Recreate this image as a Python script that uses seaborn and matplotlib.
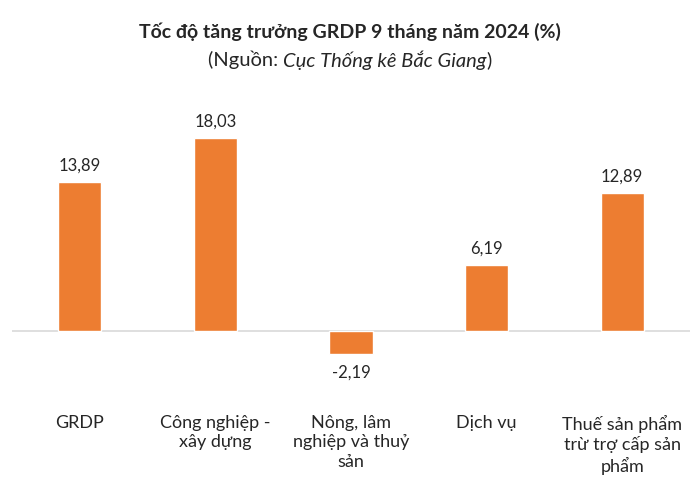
import matplotlib
matplotlib.use("Agg")
import matplotlib.pyplot as plt
import seaborn as sns
import pandas as pd

# Chart values
categories = [
    "GRDP",
    "Công nghiệp -\nxây dựng",
    "Nông, lâm\nnghiệp và thuỷ\nsản",
    "Dịch vụ",
    "Thuế sản phẩm\ntrừ trợ cấp sản\nphẩm",
]
growth = [13.89, 18.03, -2.19, 6.19, 12.89]

title = "Tốc độ tăng trưởng GRDP 9 tháng năm 2024 (%)"
source_prefix = "(Nguồn: "
source_name = "Cục Thống kê Bắc Giang"
source_suffix = ")"

sns.set_style("white")
plt.rcParams["font.family"] = ["Lato", "DejaVu Sans"]

df = pd.DataFrame({"cat": categories, "val": growth})

fig = plt.figure(figsize=(7, 4.9), dpi=100)
ax = fig.add_axes([12 / 700, 0.1935, 678 / 700, 0.5678])

sns.barplot(data=df, x="cat", y="val", color="#ED7D31", saturation=1,
            width=0.32, ax=ax)

ax.set_xlim(-0.5, 4.5)
ax.set_ylim(-6, 20)
ax.axhline(0, color="#D9D9D9", lw=1.2, zorder=0)

for i, v in enumerate(growth):
    label = f"{v:.2f}".replace(".", ",")
    if v >= 0:
        ax.annotate(label, (i, v), xytext=(0, 6), textcoords="offset points",
                    ha="center", va="bottom", fontsize=12)
    else:
        ax.annotate(label, (i, v), xytext=(0, -7), textcoords="offset points",
                    ha="center", va="top", fontsize=12)

ax.set_xlabel("")
ax.set_ylabel("")
ax.set_yticks([])
ax.tick_params(axis="x", length=0, pad=14, labelsize=13)
for t in ax.get_xticklabels():
    t.set_multialignment("center")
    t.set_linespacing(1.27)
sns.despine(ax=ax, left=True, bottom=True)

fig.text(0.5, 1 - 32 / 490, title, ha="center", va="center",
         fontsize=14, fontweight="bold")

# Subtitle with italic source name
fig.canvas.draw()
renderer = fig.canvas.get_renderer()
y_sub = 1 - 60 / 490
parts = [(source_prefix, "normal"), (source_name, "italic"), (source_suffix, "normal")]
texts = [fig.text(0, y_sub, s, ha="left", va="center", fontsize=14.5, style=st)
         for s, st in parts]
widths = [t.get_window_extent(renderer).width for t in texts]
x = (700 - sum(widths)) / 2
for t, w in zip(texts, widths):
    t.set_x(x / 700)
    x += w

fig.savefig("out.png", dpi=100)
